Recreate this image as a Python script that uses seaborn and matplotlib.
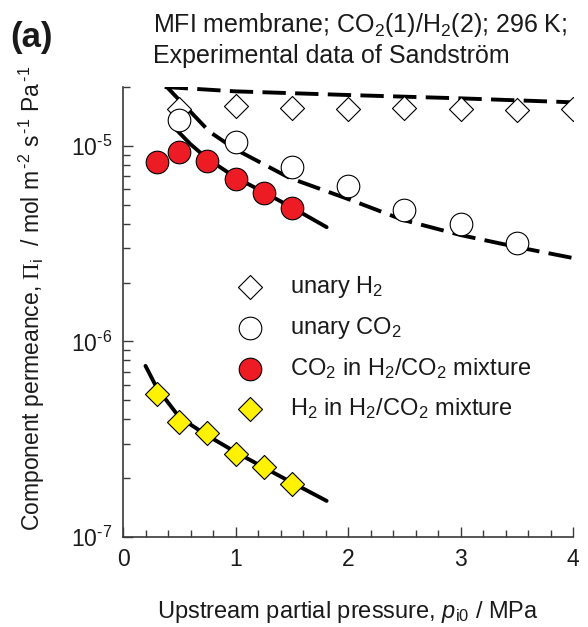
import matplotlib
matplotlib.use("Agg")
import matplotlib.pyplot as plt
import seaborn as sns
import pandas as pd
import numpy as np
from matplotlib.ticker import MultipleLocator, LogLocator, NullFormatter, FuncFormatter

# ---------------- data ----------------
# unary H2 (open diamonds)
h2_unary_p = [0.5, 1.0, 1.5, 2.0, 2.5, 3.0, 3.5, 4.0]
h2_unary_perm = [1.55e-5, 1.6e-5, 1.57e-5, 1.55e-5, 1.57e-5, 1.55e-5, 1.52e-5, 1.55e-5]
# unary CO2 (open circles)
co2_unary_p = [0.5, 1.0, 1.5, 2.0, 2.5, 3.0, 3.5]
co2_unary_perm = [1.35e-5, 1.05e-5, 7.8e-6, 6.2e-6, 4.7e-6, 4.0e-6, 3.2e-6]
# CO2 in H2/CO2 mixture (red circles)
co2_mix_p = [0.3, 0.5, 0.75, 1.0, 1.25, 1.5]
co2_mix_perm = [8.3e-6, 9.35e-6, 8.4e-6, 6.75e-6, 5.75e-6, 4.8e-6]
# H2 in H2/CO2 mixture (yellow diamonds)
h2_mix_p = [0.3, 0.5, 0.75, 1.0, 1.25, 1.5]
h2_mix_perm = [5.4e-7, 3.86e-7, 3.4e-7, 2.67e-7, 2.28e-7, 1.87e-7]

# model curves
h2_unary_fit_p = [0.37, 1.0, 2.0, 3.0, 4.0]
h2_unary_fit_perm = [2.0e-5, 1.9e-5, 1.82e-5, 1.75e-5, 1.67e-5]
co2_unary_fit_p = [0.39, 0.77, 1.0, 1.48, 2.02, 2.49, 3.0, 3.5, 4.0]
co2_unary_fit_perm = [2.0e-5, 1.18e-5, 9.6e-6, 6.86e-6, 5.3e-6, 4.18e-6, 3.5e-6, 3.04e-6, 2.67e-6]
co2_mix_fit_p = [0.45, 0.6, 0.75, 1.0, 1.25, 1.5, 1.81]
co2_mix_fit_perm = [1.25e-5, 1.02e-5, 8.6e-6, 6.9e-6, 5.8e-6, 4.85e-6, 3.84e-6]
h2_mix_fit_p = [0.2, 0.3, 0.5, 0.75, 1.0, 1.25, 1.5, 1.81]
h2_mix_fit_perm = [7.5e-7, 5.8e-7, 4.1e-7, 3.3e-7, 2.72e-7, 2.27e-7, 1.9e-7, 1.53e-7]

legend_labels = ["unary H$_2$", "unary CO$_2$", "CO$_2$ in H$_2$/CO$_2$ mixture",
                 "H$_2$ in H$_2$/CO$_2$ mixture"]

# ---------------- style ----------------
sns.set_style("ticks")
plt.rcParams["font.family"] = ["Liberation Sans", "DejaVu Sans"]
plt.rcParams["mathtext.fontset"] = "custom"
plt.rcParams["mathtext.rm"] = "Liberation Sans"
plt.rcParams["mathtext.it"] = "Liberation Sans:italic"
plt.rcParams["mathtext.bf"] = "Liberation Sans:bold"
plt.rcParams["mathtext.sf"] = "Liberation Sans"
plt.rcParams["mathtext.cal"] = "Liberation Serif"

fig = plt.figure(figsize=(5.88, 6.27), dpi=100)
ax = fig.add_axes([123/588, 1-537/627, 450/588, 450/627])

red = "#ED1C24"
yellow = "#FFF200"
txt_c = "#1a1a1a"
lw_line = 2.8
dash = (6, 2.4)

def df(x, y):
    return pd.DataFrame({"p": x, "perm": y})

sns.lineplot(data=df(h2_unary_fit_p, h2_unary_fit_perm), x="p", y="perm", ax=ax,
             color="black", lw=lw_line, sort=False, estimator=None, zorder=2).lines[-1].set_dashes(dash)
sns.lineplot(data=df(co2_unary_fit_p, co2_unary_fit_perm), x="p", y="perm", ax=ax,
             color="black", lw=lw_line, sort=False, estimator=None, zorder=2).lines[-1].set_dashes(dash)
sns.lineplot(data=df(co2_mix_fit_p, co2_mix_fit_perm), x="p", y="perm", ax=ax,
             color="black", lw=lw_line, sort=False, estimator=None, zorder=2)
sns.lineplot(data=df(h2_mix_fit_p, h2_mix_fit_perm), x="p", y="perm", ax=ax,
             color="black", lw=lw_line, sort=False, estimator=None, zorder=2)

ms_d = 150
ms_o = 265
sns.scatterplot(data=df(h2_unary_p, h2_unary_perm), x="p", y="perm", ax=ax, marker="D",
                s=ms_d, facecolor="white", edgecolor="black", linewidth=0.8, zorder=3,
                label=legend_labels[0])
sns.scatterplot(data=df(co2_unary_p, co2_unary_perm), x="p", y="perm", ax=ax, marker="o",
                s=ms_o, facecolor="white", edgecolor="black", linewidth=0.8, zorder=3,
                label=legend_labels[1])
sns.scatterplot(data=df(co2_mix_p, co2_mix_perm), x="p", y="perm", ax=ax, marker="o",
                s=ms_o, facecolor=red, edgecolor="black", linewidth=0.8, zorder=3,
                label=legend_labels[2])
sns.scatterplot(data=df(h2_mix_p, h2_mix_perm), x="p", y="perm", ax=ax, marker="D",
                s=ms_d, facecolor=yellow, edgecolor="black", linewidth=0.8, zorder=3,
                label=legend_labels[3])

ax.set_yscale("log")
ax.set_xlim(0, 4)
ax.set_ylim(1e-7, 2e-5)
ax.xaxis.set_major_locator(MultipleLocator(1))
ax.xaxis.set_minor_locator(MultipleLocator(0.2))
ax.yaxis.set_major_locator(LogLocator(base=10, numticks=10))
ax.yaxis.set_minor_locator(LogLocator(base=10, subs=np.arange(2, 10), numticks=20))
ax.yaxis.set_minor_formatter(NullFormatter())
ax.yaxis.set_major_formatter(FuncFormatter(
    lambda v, pos: "10$^{\u2010%d}$" % int(round(-np.log10(v)))))

sns.despine(ax=ax)
spine_c = "#3a3a3a"
for s in ["left", "bottom"]:
    ax.spines[s].set_color(spine_c)
    ax.spines[s].set_linewidth(1.2)
ax.tick_params(which="both", direction="in", color=spine_c, width=1.0,
               labelsize=16.5, labelcolor=txt_c)
ax.tick_params(which="major", length=7.5, pad=8)
ax.tick_params(which="minor", length=5)

ax.set_xlabel("Upstream partial pressure, $p_{\\rm i0}$ / MPa", fontsize=17, color=txt_c)
ax.xaxis.set_label_coords(0.5, -0.137)
ax.set_ylabel("Component permeance, $\\mathcal{\\Pi}_{\\rm i}$  / mol m$^{\\,\u20102}$ s$^{\\,\u20101}$ Pa$^{\\,\u20101}$",
              fontsize=16.5, color=txt_c)
ax.yaxis.set_label_coords(-0.168, 0.531)

leg = ax.legend(loc="center left", bbox_to_anchor=(0.256, 0.421), frameon=False,
                fontsize=17, handlelength=1.0, handletextpad=1.19, labelspacing=0.63,
                borderpad=0, borderaxespad=0, scatterpoints=1)
for t in leg.get_texts():
    t.set_color(txt_c)

fig.text(153/588, 1-32/627, "MFI membrane; CO$_2$(1)/H$_2$(2); 296 K;", fontsize=18,
         ha="left", va="baseline", color=txt_c)
fig.text(153/588, 1-63/627, "Experimental data of Sandstr\u00f6m", fontsize=18,
         ha="left", va="baseline", color=txt_c)
fig.text(10/588, 1-47/627, "(a)", fontsize=25, fontweight="bold",
         ha="left", va="baseline", color=txt_c)

fig.savefig("out.png", dpi=100)
